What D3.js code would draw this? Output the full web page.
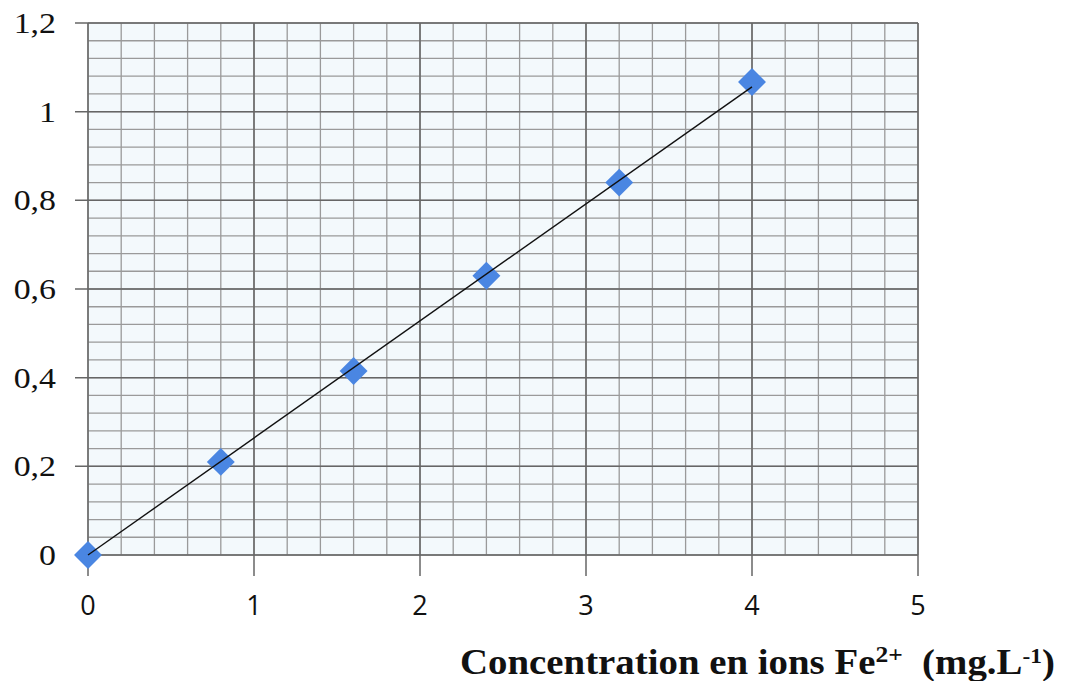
<!DOCTYPE html>
<html>
<head>
<meta charset="utf-8">
<script src="https://cdn.jsdelivr.net/npm/d3@7"></script>
<style>
  body { margin: 0; background: #fff; }
  .ylab { font-family: "Liberation Serif", serif; font-size: 30px; fill: #111; }
  .xlab { font-family: "Open Sans", "Liberation Sans", sans-serif; font-size: 27px; fill: #111; }
  .title { font-family: "Liberation Serif", serif; font-weight: bold; font-size: 35px; fill: #111; }
</style>
</head>
<body>
<div id="chart"></div>
<script>
// data
var concentration = [0, 0.8, 1.6, 2.4, 3.2, 4];
var absorbance = [0, 0.21, 0.415, 0.63, 0.84, 1.067];
var fitX = [0, 4];
var fitY = [0, 1.056];
var xTicks = [0, 1, 2, 3, 4, 5];
var yTicks = [0, 0.2, 0.4, 0.6, 0.8, 1, 1.2];

var width = 1068, height = 681;
var plotLeft = 88, plotRight = 918, plotTop = 23, plotBottom = 555;

var svg = d3.select("#chart").append("svg")
    .attr("width", width)
    .attr("height", height);

var x = d3.scaleLinear().domain([0, 5]).range([plotLeft, plotRight]);
var y = d3.scaleLinear().domain([0, 1.2]).range([plotBottom, plotTop]);

// plot background
svg.append("rect")
    .attr("x", plotLeft).attr("y", plotTop)
    .attr("width", plotRight - plotLeft).attr("height", plotBottom - plotTop)
    .attr("fill", "#f3f9fc");

// minor grid
var xMinor = d3.range(0, 5.0001, 0.2);
var yMinor = d3.range(0, 1.20001, 0.04);
svg.append("g").selectAll("line").data(xMinor).enter().append("line")
    .attr("x1", function(d) { return x(d); })
    .attr("x2", function(d) { return x(d); })
    .attr("y1", plotTop).attr("y2", plotBottom)
    .attr("stroke", "#9a9a9a").attr("stroke-width", 1.3);
svg.append("g").selectAll("line").data(yMinor).enter().append("line")
    .attr("y1", function(d) { return y(d); })
    .attr("y2", function(d) { return y(d); })
    .attr("x1", plotLeft).attr("x2", plotRight)
    .attr("stroke", "#9a9a9a").attr("stroke-width", 1.3);

// major grid + tick marks
svg.append("g").selectAll("line").data(xTicks).enter().append("line")
    .attr("x1", function(d) { return x(d); })
    .attr("x2", function(d) { return x(d); })
    .attr("y1", plotTop).attr("y2", plotBottom + 21)
    .attr("stroke", "#666").attr("stroke-width", 1.5);
svg.append("g").selectAll("line").data(yTicks).enter().append("line")
    .attr("y1", function(d) { return y(d); })
    .attr("y2", function(d) { return y(d); })
    .attr("x1", plotLeft - 13).attr("x2", plotRight)
    .attr("stroke", "#666").attr("stroke-width", 1.5);

// tick labels
svg.append("g").selectAll("text").data(yTicks).enter().append("text")
    .attr("class", "ylab")
    .attr("text-anchor", "end")
    .attr("transform", function(d) { return "translate(56," + (y(d) + 10) + ") scale(1.13,1)"; })
    .text(function(d) { return String(d).replace(".", ","); });

svg.append("g").selectAll("text").data(xTicks).enter().append("text")
    .attr("class", "xlab")
    .attr("x", function(d) { return x(d); })
    .attr("y", 615)
    .attr("text-anchor", "middle")
    .text(function(d) { return d; });

// diamond markers
var diamond = d3.symbol().type(d3.symbolSquare).size(390);
svg.append("g").selectAll("path").data(d3.zip(concentration, absorbance)).enter().append("path")
    .attr("d", diamond)
    .attr("transform", function(d) { return "translate(" + x(d[0]) + "," + y(d[1]) + ") rotate(45)"; })
    .attr("fill", "#4a86e2");

// fit line
var line = d3.line()
    .x(function(d) { return x(d[0]); })
    .y(function(d) { return y(d[1]); });
svg.append("path")
    .datum(d3.zip(fitX, fitY))
    .attr("d", line)
    .attr("fill", "none")
    .attr("stroke", "#111")
    .attr("stroke-width", 1.4);

// axis title
var title = svg.append("text")
    .attr("class", "title")
    .attr("transform", "translate(460,674) scale(1.11,1)");
title.append("tspan").text("Concentration en ions Fe");
title.append("tspan").attr("dy", -12).attr("font-size", 23).text("2+");
title.append("tspan").attr("dy", 12).text("\u00a0 (mg.L");
title.append("tspan").attr("dy", -11).attr("font-size", 21).text("-1");
title.append("tspan").attr("dy", 11).text(")");
</script>
</body>
</html>
